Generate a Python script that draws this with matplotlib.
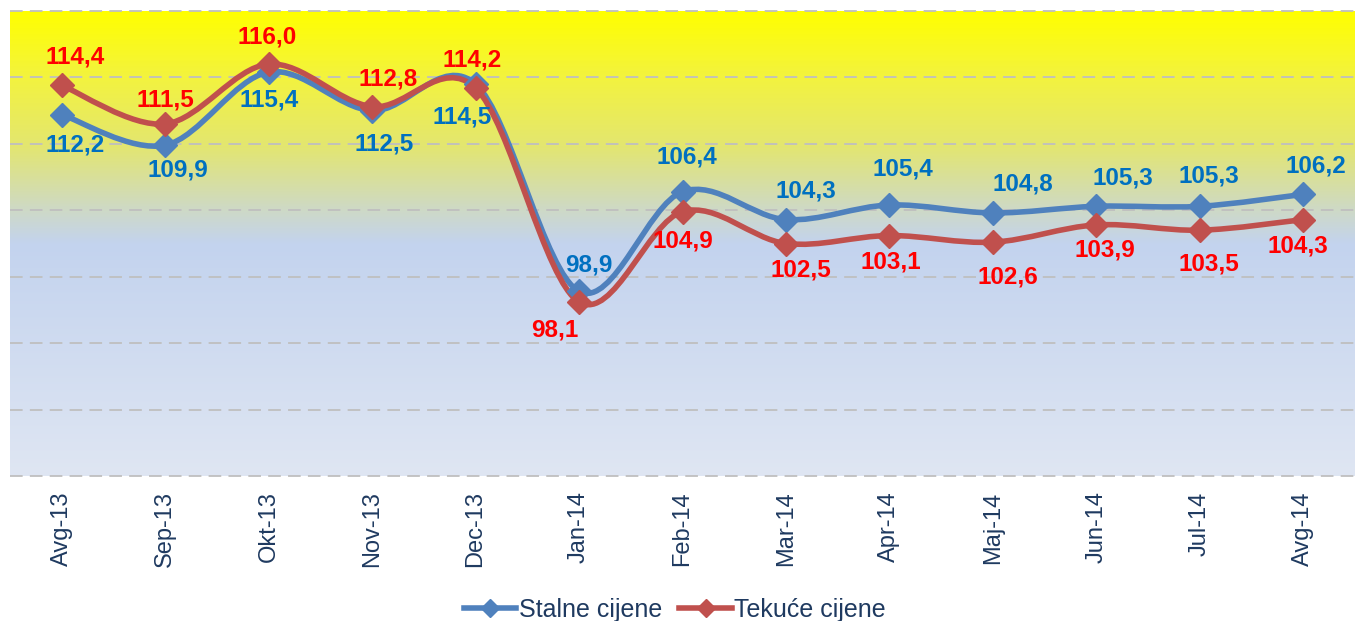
import numpy as np
import matplotlib
matplotlib.use("Agg")
import matplotlib.pyplot as plt
from matplotlib.path import Path
from matplotlib.patches import PathPatch
from matplotlib.lines import Line2D
from matplotlib.colors import LinearSegmentedColormap

plt.rcParams['font.family'] = ['Liberation Sans', 'DejaVu Sans']

mjeseci = ["Avg-13", "Sep-13", "Okt-13", "Nov-13", "Dec-13", "Jan-14", "Feb-14",
           "Mar-14", "Apr-14", "Maj-14", "Jun-14", "Jul-14", "Avg-14"]
stalne = [112.2, 109.9, 115.4, 112.5, 114.5, 98.9, 106.4, 104.3, 105.4, 104.8, 105.3, 105.3, 106.2]
tekuce = [114.4, 111.5, 116.0, 112.8, 114.2, 98.1, 104.9, 102.5, 103.1, 102.6, 103.9, 103.5, 104.3]

# pomaci natpisa (pikseli)
pomak_plavi = [(13, -30), (13, -25), (0, -28), (12, -33), (-13, -33), (10, 26), (4, 35),
               (20, 29), (13, 36), (30, 29), (27, 28), (9, 30), (13, 28)]
pomak_crveni = [(13, 28), (0, 24), (-2, 27), (16, 28), (-3, 28), (-24, -28), (0, -29),
                (15, -27), (1, -26), (15, -35), (9, -25), (9, -34), (-5, -26)]

plava = '#4F81BD'
crvena = '#C0504D'
tekst_plavi = '#0070C0'
tekst_crveni = '#FF0000'
tamna = '#1F3A60'


def glatka_putanja(x, y):
    # kubni Bezier kroz tocke (kao "smoothed line" u Excelu)
    pts = np.column_stack([x, y]).astype(float)
    n = len(pts)
    verts = [pts[0]]
    codes = [Path.MOVETO]
    for i in range(n - 1):
        p0 = pts[i - 1] if i > 0 else pts[i]
        p1 = pts[i]
        p2 = pts[i + 1]
        p3 = pts[i + 2] if i + 2 < n else pts[i + 1]
        c1 = p1 + (p2 - p0) / 6.0
        c2 = p2 - (p3 - p1) / 6.0
        verts += [c1, c2, p2]
        codes += [Path.CURVE4] * 3
    return Path(verts, codes)


fig = plt.figure(figsize=(13.55, 6.21), dpi=100)
ax = fig.add_axes([10 / 1355, 1 - 476 / 621, 1 - 10 / 1355, (476 - 11) / 621])

x = np.arange(len(mjeseci))
ax.set_xlim(-0.5, len(mjeseci) - 0.5)

# pozadina s gradijentom (odozgo prema dolje)
boje = [(0.0, '#FFFF00'), (0.14, '#F3F33E'), (0.29, '#E3E670'), (0.42, '#CFDAC2'),
        (0.50, '#C3D3EE'), (1.0, '#DFE6F3')]
cmap = LinearSegmentedColormap.from_list('pozadina', boje)
grad = np.linspace(0, 1, 256).reshape(-1, 1)
ax.imshow(grad, cmap=cmap, aspect='auto', origin='upper',
          extent=(-0.5, len(mjeseci) - 0.5, 85, 120), zorder=0, interpolation='bilinear')
ax.set_ylim(85, 120)

for v in np.arange(85, 121, 5):
    ax.axhline(v, color='#BFBFBF', lw=1.3, ls=(0, (7, 4)), zorder=1, clip_on=False)

for vr, boja in [(stalne, plava), (tekuce, crvena)]:
    ax.add_patch(PathPatch(glatka_putanja(x, vr), fill=False, edgecolor=boja, lw=4,
                           capstyle='round', joinstyle='round', zorder=3))
    ax.plot(x, vr, ls='none', marker='D', ms=12.5, color=boja, zorder=4)

for i in range(len(mjeseci)):
    ax.annotate(f"{stalne[i]:.1f}".replace('.', ','), (x[i], stalne[i]),
                xytext=pomak_plavi[i], textcoords='offset pixels', ha='center', va='center',
                fontsize=17.5, fontweight='bold', color=tekst_plavi, zorder=5)
    ax.annotate(f"{tekuce[i]:.1f}".replace('.', ','), (x[i], tekuce[i]),
                xytext=pomak_crveni[i], textcoords='offset pixels', ha='center', va='center',
                fontsize=17.5, fontweight='bold', color=tekst_crveni, zorder=5)

ax.set_xticks(x)
ax.set_xticklabels(mjeseci, rotation=90, fontsize=17, color=tamna)
ax.tick_params(axis='x', length=0, pad=11)
ax.set_yticks([])
for s in ax.spines.values():
    s.set_visible(False)

handles = [Line2D([], [], color=plava, lw=4, marker='D', ms=9),
           Line2D([], [], color=crvena, lw=4, marker='D', ms=9)]
leg = fig.legend(handles, ["Stalne cijene", "Tekuće cijene"], loc='center',
                 bbox_to_anchor=(0.498, 0.018), ncol=2, frameon=False, fontsize=18,
                 handlelength=2.1, handletextpad=0.1, columnspacing=0.7)
for t in leg.get_texts():
    t.set_color(tamna)

fig.savefig('out.png', dpi=100)
